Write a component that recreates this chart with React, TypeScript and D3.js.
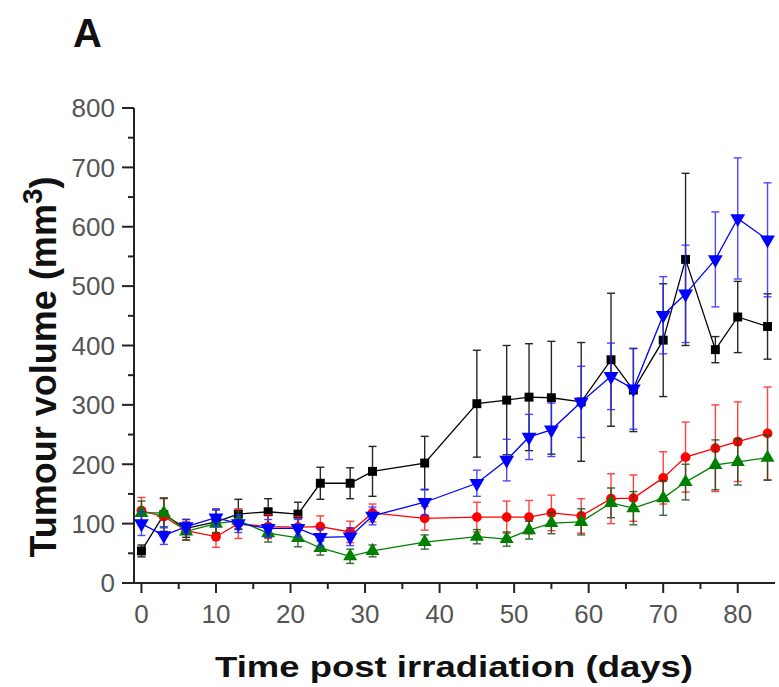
import * as d3 from "d3";

// measurement days (post irradiation)
const days = [0, 3, 6, 10, 13, 17, 21, 24, 28, 31, 38, 45, 49, 52, 55, 59, 63, 66, 70, 73, 77, 80, 84];

// mean tumour volumes (mm3) and error bars
const blackMean = [54, 115, 92, 103, 116, 120, 116, 168, 168, 188, 202, 302, 308, 313, 312, 305, 376, 325, 409, 545, 393, 448, 432];
const blackErr = [10, 28, 15, 20, 25, 22, 20, 27, 26, 42, 45, 90, 92, 90, 95, 100, 112, 70, 95, 145, 22, 60, 55];

const redMean = [122, 112, 88, 78, 100, 95, 94, 95, 86, 118, 109, 111, 111, 111, 118, 113, 142, 143, 177, 212, 227, 238, 252];
const redErr = [22, 30, 15, 18, 25, 20, 18, 18, 18, 15, 20, 25, 27, 28, 30, 29, 42, 39, 44, 59, 73, 67, 78];

const greenMean = [118, 118, 87, 100, 105, 84, 76, 59, 45, 54, 69, 78, 74, 89, 101, 103, 135, 126, 143, 170, 199, 204, 211];
const greenErr = [20, 25, 15, 15, 15, 15, 15, 12, 12, 10, 12, 12, 12, 15, 18, 22, 25, 28, 29, 30, 42, 39, 38];

const blueMean = [100, 80, 95, 110, 100, 92, 92, 77, 78, 113, 136, 168, 207, 246, 258, 305, 348, 327, 451, 487, 545, 614, 578];
const blueErr = [20, 15, 12, 15, 15, 15, 15, 15, 15, 15, 22, 22, 35, 38, 45, 60, 56, 68, 65, 82, 80, 102, 96];

const xTicks = [0, 10, 20, 30, 40, 50, 60, 70, 80];
const yTicks = [0, 100, 200, 300, 400, 500, 600, 700, 800];

const WIDTH = 779;
const HEIGHT = 687;
const FONT = "Arial, 'Liberation Sans', sans-serif";

type Series = {
  name: string;
  mean: number[];
  err: number[];
  color: string;
  errColor: string;
  symbol: d3.SymbolType;
  size: number;
  rotate: number;
};

const series: Series[] = [
  { name: "black", mean: blackMean, err: blackErr, color: "#000000", errColor: "#000000", symbol: d3.symbolSquare, size: 80, rotate: 0 },
  { name: "red", mean: redMean, err: redErr, color: "#ff0000", errColor: "#ff2020", symbol: d3.symbolCircle, size: 75, rotate: 0 },
  { name: "green", mean: greenMean, err: greenErr, color: "#008000", errColor: "#1a4a1a", symbol: d3.symbolTriangle, size: 85, rotate: 0 },
  { name: "blue", mean: blueMean, err: blueErr, color: "#0000ff", errColor: "#2a2aff", symbol: d3.symbolTriangle, size: 95, rotate: 180 },
];

export default function App() {
  const x = d3.scaleLinear().domain([-1, 85]).range([134, 775]);
  const y = d3.scaleLinear().domain([0, 800]).range([583, 108]);

  const line = d3.line<number>()
    .x((_, i) => x(days[i]))
    .y((d) => y(d));

  const xMinor = d3.range(5, 85, 10);
  const yMinor = d3.range(50, 800, 100);
  const cap = 4;

  return (
    <svg width={WIDTH} height={HEIGHT} style={{ position: "absolute", left: 0, top: 0, background: "#fff" }}>
      <text x={73} y={47} fontFamily={FONT} fontWeight="bold" fontSize={40} fill="#111">A</text>

      {/* axes */}
      <g stroke="#222" strokeWidth={2} fill="none">
        <line x1={x(-1)} x2={x(-1)} y1={y(800)} y2={y(0)} />
        <line x1={x(-1)} x2={x(85)} y1={y(0)} y2={y(0)} />
        {yTicks.map((t) => (
          <line key={"yt" + t} x1={x(-1) - 12} x2={x(-1)} y1={y(t)} y2={y(t)} />
        ))}
        {yMinor.map((t) => (
          <line key={"ym" + t} x1={x(-1) - 6} x2={x(-1)} y1={y(t)} y2={y(t)} />
        ))}
        {xTicks.map((t) => (
          <line key={"xt" + t} x1={x(t)} x2={x(t)} y1={y(0)} y2={y(0) + 10} />
        ))}
        {xMinor.map((t) => (
          <line key={"xm" + t} x1={x(t)} x2={x(t)} y1={y(0)} y2={y(0) + 6} />
        ))}
      </g>

      <g fontFamily={FONT} fontSize={26} fill="#555">
        {yTicks.map((t) => (
          <text key={"yl" + t} x={x(-1) - 19} y={y(t)} dy="0.36em" textAnchor="end">{t}</text>
        ))}
        {xTicks.map((t) => (
          <text key={"xl" + t} x={x(t)} y={623} textAnchor="middle">{t}</text>
        ))}
      </g>

      {/* axis titles */}
      <text x={454} y={677} textAnchor="middle" fontFamily={FONT} fontWeight="bold" fontSize={30}
        textLength={478} lengthAdjust="spacingAndGlyphs" fill="#111">
        Time post irradiation (days)
      </text>
      <text transform="translate(56,367) rotate(-90)" textAnchor="middle" fontFamily={FONT}
        fontWeight="bold" fontSize={36} fill="#111">
        Tumour volume (mm<tspan dy={-14} fontSize={28}>3</tspan><tspan dy={14}>)</tspan>
      </text>

      {/* series */}
      {series.map((s) => (
        <g key={s.name}>
          <g stroke={s.errColor} strokeWidth={1.4} opacity={0.85}>
            {s.mean.map((m, i) => {
              const cx = x(days[i]);
              const top = y(m + s.err[i]);
              const bot = y(Math.max(0, m - s.err[i]));
              return (
                <g key={i}>
                  <line x1={cx} x2={cx} y1={top} y2={bot} />
                  <line x1={cx - cap} x2={cx + cap} y1={top} y2={top} />
                  <line x1={cx - cap} x2={cx + cap} y1={bot} y2={bot} />
                </g>
              );
            })}
          </g>
          <path d={line(s.mean) ?? ""} fill="none" stroke={s.color} strokeWidth={1.3} />
          {s.mean.map((m, i) => (
            <path
              key={i}
              d={d3.symbol().type(s.symbol).size(s.size)() ?? ""}
              transform={`translate(${x(days[i])},${y(m)}) rotate(${s.rotate})`}
              fill={s.color}
            />
          ))}
        </g>
      ))}
    </svg>
  );
}
